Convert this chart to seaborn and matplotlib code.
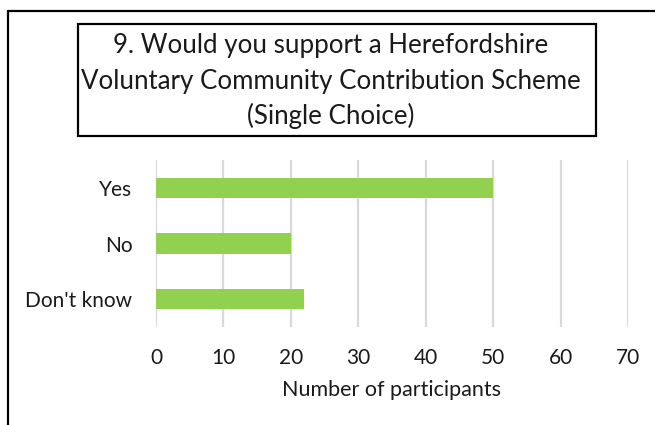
import matplotlib
matplotlib.use("Agg")
import matplotlib.pyplot as plt
import seaborn as sns
import pandas as pd
from matplotlib.patches import Rectangle
from matplotlib.lines import Line2D

# Survey responses
answers = ["Yes", "No", "Don't know"]
counts = [50, 20, 22]
x_ticks = [0, 10, 20, 30, 40, 50, 60, 70]
title_lines = [
    "9. Would you support a Herefordshire",
    "Voluntary Community Contribution Scheme",
    "(Single Choice)",
]
x_label = "Number of participants"

df = pd.DataFrame({"answer": answers, "count": counts})

sns.set_theme(style="white")
plt.rcParams["font.family"] = ["Lato", "DejaVu Sans"]

W, H = 655, 425
fig = plt.figure(figsize=(W / 100, H / 100), dpi=100)
fig.patch.set_facecolor("white")

ax = fig.add_axes([156 / W, 1 - 327 / H, (628 - 156) / W, (327 - 160) / H])
sns.barplot(data=df, y="answer", x="count", ax=ax, color="#92D050",
            width=0.36, saturation=1, edgecolor="none", zorder=3)

ax.set_xlim(0, 70)
ax.set_xticks(x_ticks)
ax.set_xticklabels([str(t) for t in x_ticks], fontsize=15, color="#1a1a1a")
ax.tick_params(axis="x", length=0, pad=15)
ax.tick_params(axis="y", length=0, pad=17, labelsize=15, labelcolor="#1a1a1a")
ax.set_xlabel(x_label, fontsize=15.5, color="#1a1a1a", labelpad=9)
ax.set_ylabel("")
ax.grid(axis="x", color="#D9D9D9", linewidth=1.6, zorder=0)
ax.grid(axis="y", visible=False)
for s in ax.spines.values():
    s.set_visible(False)

# Title box
fig.patches.append(Rectangle((78 / W, 1 - 136 / H), (596 - 78) / W, (136 - 24) / H,
                             transform=fig.transFigure, fill=False,
                             edgecolor="black", linewidth=1.6))
for i, line in enumerate(title_lines):
    fig.text(331 / W, 1 - (46 + 35 * i) / H, line, ha="center", va="center",
             fontsize=18.6, color="#1a1a1a")

# Outer frame (top and left edges)
fig.lines.append(Line2D([8 / W, 1], [1 - 11 / H, 1 - 11 / H],
                        transform=fig.transFigure, color="black", linewidth=1.6))
fig.lines.append(Line2D([8 / W, 8 / W], [0, 1 - 11 / H],
                        transform=fig.transFigure, color="black", linewidth=1.6))

fig.savefig("out.png", dpi=100)
